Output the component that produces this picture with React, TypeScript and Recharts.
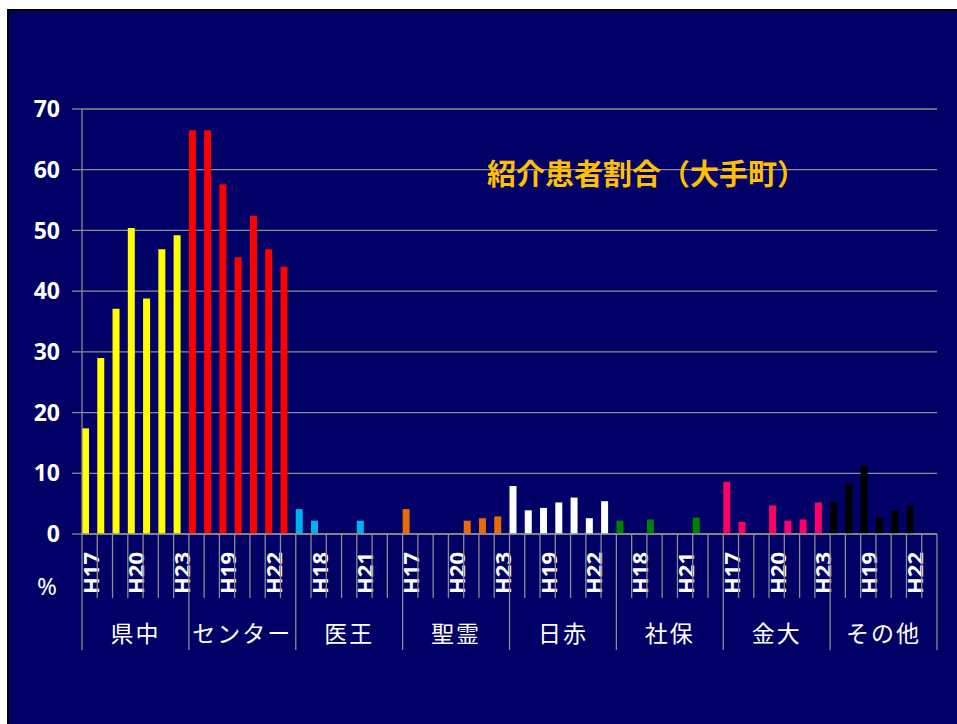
import { BarChart, Bar, XAxis, YAxis, CartesianGrid, Cell } from 'recharts'

const YEARS = ['H17', 'H18', 'H19', 'H20', 'H21', 'H22', 'H23']
const GROUPS = ['県中', 'センター', '医王', '聖霊', '日赤', '社保', '金大', 'その他']
const GROUP_COLORS = ['#FFFF00', '#FF0000', '#00B0F0', '#E46C0A', '#FFFFFF', '#008000', '#FF0066', '#000000']

// 紹介患者割合 (%) per hospital, H17..H23
const kenchu = [17.4, 29.0, 37.1, 50.4, 38.8, 46.9, 49.2]
const center = [66.5, 66.5, 57.6, 45.6, 52.4, 46.9, 44.0]
const iou = [4.1, 2.2, null, null, 2.2, null, null]
const seirei = [4.1, null, null, null, 2.2, 2.6, 2.9]
const nisseki = [7.9, 3.9, 4.3, 5.2, 6.0, 2.6, 5.4]
const shaho = [2.2, null, 2.4, null, null, 2.7, null]
const kindai = [8.6, 2.0, null, 4.7, 2.2, 2.4, 5.2]
const other = [5.2, 8.3, 11.3, 2.7, 3.9, 4.7, null]

const SERIES = [kenchu, center, iou, seirei, nisseki, shaho, kindai, other]
const Y_TICKS = [0, 10, 20, 30, 40, 50, 60, 70]

const data = SERIES.flatMap((values, g) =>
  YEARS.map((year, i) => ({ key: `${g}-${year}`, year, group: g, value: values[i], pad: null }))
)

const CHART_W = 948
const CHART_H = 713
const MARGIN = { top: 98, right: 20, left: 0, bottom: 70 }
const Y_AXIS_W = 73
const BAND = (CHART_W - MARGIN.right - MARGIN.left - Y_AXIS_W) / data.length
const GRID = '#8c8c8c'
const NAVY = '#000066'

function CategoryTick(props: any) {
  const { x, y, payload } = props
  const i = payload.index
  const left = x - BAND / 2
  const row = data[i]
  const isLast = i === data.length - 1
  return (
    <g>
      <line x1={left} x2={left} y1={y} y2={y + (i % 7 === 0 ? 116 : 64)} stroke={GRID} strokeWidth={1.3} />
      {isLast && (
        <line x1={x + BAND / 2} x2={x + BAND / 2} y1={y} y2={y + 116} stroke={GRID} strokeWidth={1.3} />
      )}
      {i % 3 === 0 && (
        <text
          x={x}
          y={y + 18}
          textAnchor="end"
          dominantBaseline="central"
          transform={`rotate(-90, ${x}, ${y + 18})`}
          fill="#FFFFFF"
          fontFamily="'Noto Sans', sans-serif"
          fontWeight="bold"
          fontSize={22}
        >
          {row.year}
        </text>
      )}
      {i % 7 === 3 && (
        <text
          x={x}
          y={y + 98}
          textAnchor="middle"
          dominantBaseline="central"
          fill="#FFFFFF"
          fontFamily="'Noto Sans CJK JP', sans-serif"
          fontSize={23}
          letterSpacing={2}
        >
          {GROUPS[row.group]}
        </text>
      )}
    </g>
  )
}

export default function App() {
  return (
    <div>
      <style>{`body{margin:0;overflow:hidden;background:#fff}`}</style>
      <div
        style={{
          position: 'absolute',
          left: 7,
          top: 9,
          width: CHART_W + 2,
          height: CHART_H + 2,
          borderTop: '2px solid #000',
          borderLeft: '2px solid #000',
          background: NAVY
        }}
      >
        <BarChart width={CHART_W} height={CHART_H} data={data} margin={MARGIN} barGap={1}>
          <CartesianGrid vertical={false} stroke={GRID} strokeWidth={1.3} />
          <XAxis
            dataKey="key"
            interval={0}
            height={120}
            tickSize={0}
            tickMargin={0}
            tickLine={false}
            axisLine={{ stroke: GRID, strokeWidth: 1.3 }}
            tick={<CategoryTick />}
          />
          <YAxis
            width={Y_AXIS_W}
            domain={[0, 70]}
            ticks={Y_TICKS}
            interval={0}
            tickSize={10}
            tickMargin={12}
            axisLine={{ stroke: GRID, strokeWidth: 1.3 }}
            tickLine={{ stroke: GRID, strokeWidth: 1.3 }}
            tick={{ fill: '#FFFFFF', fontFamily: "'Noto Sans', sans-serif", fontWeight: 'bold', fontSize: 23 }}
          />
          <Bar dataKey="value" barSize={7} isAnimationActive={false}>
            {data.map(d => (
              <Cell key={d.key} fill={GROUP_COLORS[d.group]} />
            ))}
          </Bar>
          <Bar dataKey="pad" barSize={7} isAnimationActive={false} />
        </BarChart>
        <div
          style={{
            position: 'absolute',
            left: 478,
            top: 145,
            color: '#FFC000',
            fontFamily: "'Noto Sans CJK JP', sans-serif",
            fontWeight: 'bold',
            fontSize: 29,
            lineHeight: '32px',
            whiteSpace: 'nowrap'
          }}
        >
          紹介患者割合（大手町）
        </div>
        <div
          style={{
            position: 'absolute',
            left: 28,
            top: 560,
            color: '#FFFFFF',
            fontFamily: "'Noto Sans', sans-serif",
            fontSize: 24,
            lineHeight: '30px'
          }}
        >
          %
        </div>
      </div>
    </div>
  )
}
